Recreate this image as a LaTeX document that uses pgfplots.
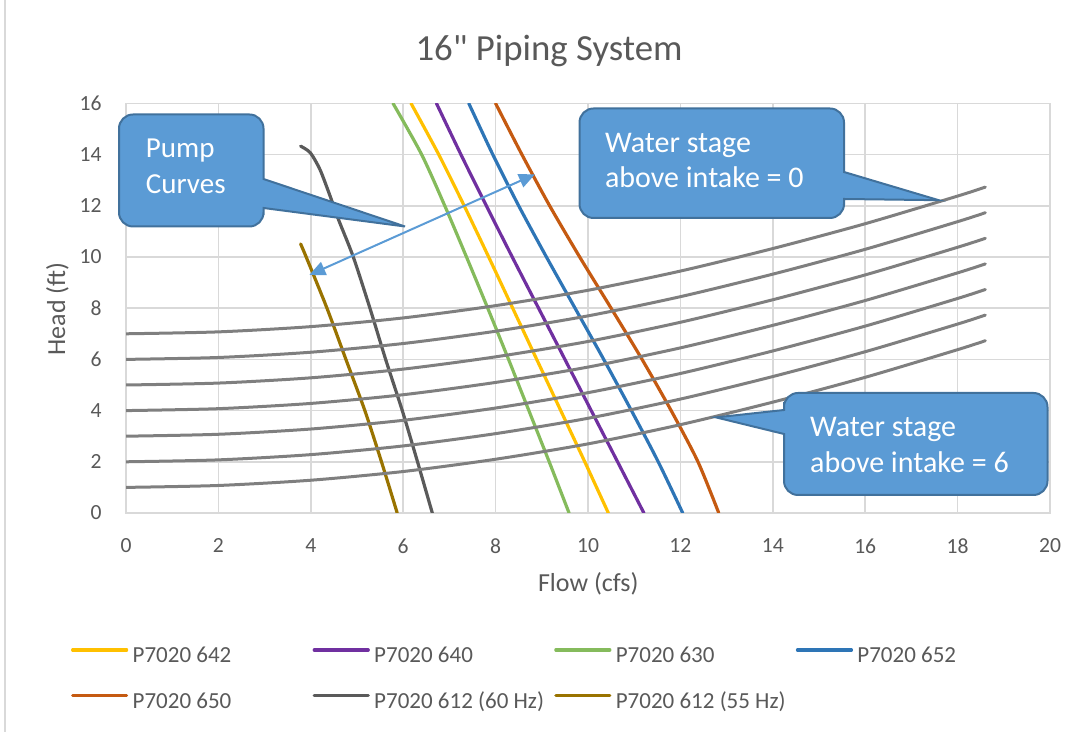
\documentclass[border=0pt]{standalone}
\usepackage{fontspec}
\setmainfont{Carlito}
\newfontfamily\plaincarlito{Carlito}
\usepackage{pgfplots}
\pgfplotsset{compat=1.18}
\usetikzlibrary{arrows.meta}
\definecolor{txt}{HTML}{595959}
\definecolor{gridc}{HTML}{D9D9D9}
\definecolor{c642}{HTML}{FFC000}
\definecolor{c640}{HTML}{7030A0}
\definecolor{c630}{HTML}{85BB5C}
\definecolor{c652}{HTML}{2E75B6}
\definecolor{c650}{HTML}{C55A11}
\definecolor{c612}{HTML}{5A5A5A}
\definecolor{c612b}{HTML}{997300}
\definecolor{sys}{HTML}{7F7F7F}
\definecolor{cfill}{HTML}{5B9BD5}
\definecolor{cedge}{HTML}{41719C}
\begin{document}
\begin{tikzpicture}
\useasboundingbox (0pt,0pt) rectangle (543pt,366pt);
\begin{axis}[
  at={(63pt,109.5pt)}, anchor=south west,
  x=23.1pt, y=12.8pt,
  xmin=0, xmax=20, ymin=0, ymax=16,
  xtick={0,2,...,20}, ytick={0,2,...,16},
  grid=major, major grid style={draw=gridc, line width=0.75pt},
  axis line style={draw=gridc, line width=0.75pt},
  major tick length=0pt,
  /pgf/number format/assume math mode=true,
  ticklabel style={font=\fontsize{10.8}{13}\selectfont, text=txt},
  yticklabel style={inner sep=0pt, xshift=-12pt},
  xticklabel style={inner sep=0pt, yshift=-12.6pt},
  every axis plot/.append style={line width=1.6pt, line cap=round, line join=round, smooth, tension=0.45},
  legend style={
    at={(axis description cs:-0.0664,-0.3156)}, anchor=north west,
    draw=none, fill=none,
    font=\fontsize{11.5}{13}\selectfont, text=txt,
    /tikz/every odd column/.append style={column sep=0.7pt},
    /tikz/every even column/.append style={column sep=3.5pt},
    row sep=12.35pt,
    nodes={inner xsep=1.5pt, inner ysep=0pt, text height=8pt, text depth=2.5pt},
  },
  legend columns=4,
  legend cell align=left,
  legend image code/.code={\draw[#1] (0pt,3.6pt) -- (27pt,3.6pt);},
]
% pump curves
\addplot[c642] coordinates {(6.17,16) (6.77,14) (7.32,12) (7.85,10) (8.37,8) (8.89,6) (9.41,4) (9.93,2) (10.44,0)};
\addlegendentry{\makebox[85pt][l]{P7020 642}}
\addplot[c640] coordinates {(6.72,16) (7.25,14) (7.80,12) (8.36,10) (8.93,8) (9.50,6) (10.07,4) (10.64,2) (11.21,0)};
\addlegendentry{\makebox[85pt][l]{P7020 640}}
\addplot[c630] coordinates {(5.78,16) (6.40,14) (6.90,12) (7.37,10) (7.83,8) (8.28,6) (8.72,4) (9.16,2) (9.59,0)};
\addlegendentry{\makebox[85pt][l]{P7020 630}}
\addplot[c652] coordinates {(7.42,16) (7.94,14) (8.50,12) (9.10,10) (9.72,8) (10.34,6) (10.94,4) (11.52,2) (12.05,0)};
\addlegendentry{\makebox[85pt][l]{P7020 652}}
\addplot[c650] coordinates {(8.00,16) (8.57,14) (9.17,12) (9.82,10) (10.50,8) (11.17,6) (11.80,4) (12.38,2) (12.83,0)};
\addlegendentry{\makebox[85pt][l]{P7020 650}}
\addplot[c612] coordinates {(3.78,14.33) (3.99,14.07) (4.20,13.41) (4.42,12.37) (4.60,11.46) (4.92,10.0) (5.28,8.0) (5.62,6.0) (5.98,4.0) (6.31,2.0) (6.63,0)};
\addlegendentry{\makebox[85pt][l]{P7020 612 (60 Hz)}}
\addplot[c612b] coordinates {(3.78,10.51) (3.90,10) (4.35,8) (4.76,6) (5.17,4) (5.53,2) (5.87,0)};
\addlegendentry{\makebox[85pt][l]{P7020 612 (55 Hz)}}
% system curves
\addplot[sys, line width=1.5pt, forget plot] coordinates {(0,7) (2,7.075) (4,7.28) (6,7.62) (8,8.10) (10,8.70) (12,9.45) (14,10.33) (16,11.30) (18,12.38) (18.6,12.73)};
\addplot[sys, line width=1.5pt, forget plot] coordinates {(0,6) (2,6.075) (4,6.28) (6,6.62) (8,7.10) (10,7.70) (12,8.45) (14,9.33) (16,10.30) (18,11.38) (18.6,11.73)};
\addplot[sys, line width=1.5pt, forget plot] coordinates {(0,5) (2,5.075) (4,5.28) (6,5.62) (8,6.10) (10,6.70) (12,7.45) (14,8.33) (16,9.30) (18,10.38) (18.6,10.73)};
\addplot[sys, line width=1.5pt, forget plot] coordinates {(0,4) (2,4.075) (4,4.28) (6,4.62) (8,5.10) (10,5.70) (12,6.45) (14,7.33) (16,8.30) (18,9.38) (18.6,9.73)};
\addplot[sys, line width=1.5pt, forget plot] coordinates {(0,3) (2,3.075) (4,3.28) (6,3.62) (8,4.10) (10,4.70) (12,5.45) (14,6.33) (16,7.30) (18,8.38) (18.6,8.73)};
\addplot[sys, line width=1.5pt, forget plot] coordinates {(0,2) (2,2.075) (4,2.28) (6,2.62) (8,3.10) (10,3.70) (12,4.45) (14,5.33) (16,6.30) (18,7.38) (18.6,7.73)};
\addplot[sys, line width=1.5pt, forget plot] coordinates {(0,1) (2,1.075) (4,1.28) (6,1.62) (8,2.10) (10,2.70) (12,3.45) (14,4.33) (16,5.30) (18,6.38) (18.6,6.73)};
\end{axis}
\begin{scope}[x=0.5pt, y=-0.5pt, shift={(0pt,366pt)}]
  \draw[gridc, line width=0.75pt] (5,0) -- (5,732);
  \node[anchor=base, text=txt, font=\plaincarlito\fontsize{18.4}{22}\selectfont] at (549,61) {16" Piping System};
  \node[anchor=base, text=txt, font=\fontsize{13}{15}\selectfont] at (588.3,591.7) {Flow (cfs)};
  \node[rotate=90, anchor=center, text=txt, font=\fontsize{13}{15}\selectfont] at (57.5,309) {Head (ft)};
  % callout: pump curves
  \filldraw[fill=cfill, draw=cedge, line width=1pt]
    (119,170) [rounded corners=7pt] -- (119,114.5) -- (263.5,114.5) -- (263.5,150) [sharp corners] -- (263.5,179) -- (405,226.5) -- (263.5,208) -- (263.5,215) [rounded corners=7pt] -- (263.5,226.5) -- (119,226.5) -- cycle;
  \node[anchor=base west, text=white, font=\fontsize{14.5}{17}\selectfont, inner sep=0pt] at (145.5,157.6) {Pump};
  \node[anchor=base west, text=white, font=\fontsize{14.5}{17}\selectfont, inner sep=0pt] at (145.5,193.2) {Curves};
  % callout: water stage 0
  \filldraw[fill=cfill, draw=cedge, line width=1pt]
    (579.5,160) [rounded corners=7pt] -- (579.5,108.5) -- (844,108.5) -- (844,140) [sharp corners] -- (844,172) -- (938.7,200.2) -- (844,199) -- (844,205) [rounded corners=7pt] -- (844,218) -- (579.5,218) -- cycle;
  \node[anchor=base west, text=white, font=\fontsize{15}{17}\selectfont, inner sep=0pt] at (604.7,152.6) {Water stage};
  \node[anchor=base west, text=white, font=\fontsize{15}{17}\selectfont, inner sep=0pt] at (604.7,187.6) {above intake = 0};
  % callout: water stage 6
  \filldraw[fill=cfill, draw=cedge, line width=1pt]
    (900,393) [rounded corners=7pt] -- (1047.5,393) -- (1047.5,495) -- (784,495) -- (784,460) [sharp corners] -- (784,434) -- (716,417.4) -- (784,410) -- (784,402) [rounded corners=7pt] -- (784,393) -- cycle;
  \node[anchor=base west, text=white, font=\fontsize{15}{17}\selectfont, inner sep=0pt] at (809.8,436.7) {Water stage};
  \node[anchor=base west, text=white, font=\fontsize{15}{17}\selectfont, inner sep=0pt] at (809.8,472.4) {above intake = 6};
  % double arrow
  \draw[cfill, line width=1pt, {Triangle[length=8pt,width=7pt]}-{Triangle[length=8pt,width=7pt]}] (309.3,275) -- (535,174.3);
\end{scope}
\end{tikzpicture}
\end{document}
